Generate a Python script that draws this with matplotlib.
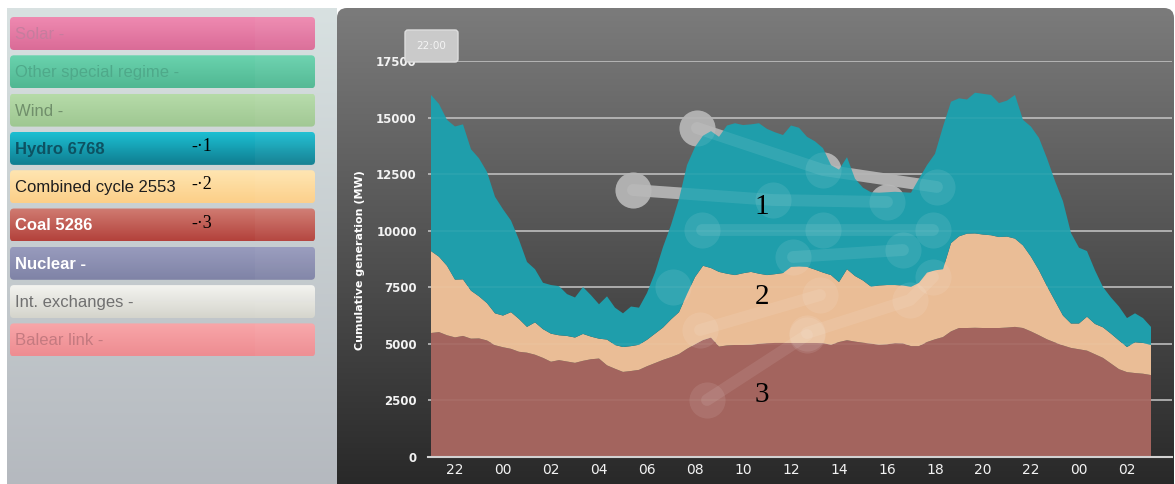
#!/usr/bin/env python3
"""
Cumulative generation dashboard: stacked coal / combined cycle / hydro areas
next to the technology selector panel.
"""

import matplotlib

matplotlib.use("Agg")

import matplotlib.pyplot as plt
import numpy as np
from matplotlib import colors as mcolors
from matplotlib import font_manager
from matplotlib.patches import FancyBboxPatch, Rectangle


OUTPUT_PATH = "out.png"
W, H = 1175, 484

# MW, one sample every 20 minutes from 21:00 to 03:00 two days later
START_HOUR = 21
STEP_HOURS = 1 / 3

coal = [
    5480, 5520, 5380, 5286, 5350, 5230, 5240, 5150, 4940, 4850,
    4780, 4650, 4610, 4520, 4380, 4210, 4280, 4220, 4160, 4250,
    4320, 4350, 4050, 3900, 3760, 3800, 3850, 4010, 4150, 4290,
    4410, 4550, 4780, 4980, 5170, 5280, 4880, 4930, 4950, 4950,
    4960, 5000, 5030, 5040, 5040, 5040, 5040, 5040, 5040, 5030,
    4960, 5080, 5160, 5100, 5050, 5010, 4960, 4980, 5030, 5020,
    4900, 4900, 5080, 5200, 5300, 5550, 5700, 5700, 5710, 5700,
    5700, 5700, 5720, 5750, 5700, 5550, 5380, 5200, 5060, 4930,
    4820, 4760, 4700, 4540, 4380, 4130, 3880, 3750, 3710, 3680,
    3620,
]
combined_cycle = [
    3620, 3330, 3070, 2553, 2500, 2120, 1860, 1650, 1410, 1400,
    1620, 1450, 1140, 1430, 1270, 1240, 1100, 1130, 1120, 1190,
    1000, 880, 1140, 1050, 1100, 1100, 1110, 1170, 1300, 1430,
    1670, 1850, 2420, 2970, 3280, 3070, 3300, 3170, 3090, 3170,
    3220, 3100, 3010, 3040, 3090, 3360, 3380, 3360, 3240, 3120,
    3080, 2650, 3140, 2900, 2750, 2520, 2620, 2620, 2570, 2560,
    2620, 2800, 3070, 3050, 3000, 3900, 4050, 4170, 4170, 4130,
    4100, 4020, 4020, 3900, 3650, 3300, 2870, 2350, 1840, 1320,
    1080, 1140, 1500, 1340, 1350, 1320, 1270, 1110, 1360, 1360,
    1330,
]
hydro = [
    6900, 6750, 6450, 6768, 6850, 6250, 6100, 5800, 5150, 4700,
    4050, 3500, 2870, 2350, 2050, 2150, 2170, 1850, 1770, 2070,
    1830, 1520, 1910, 1650, 1490, 1750, 1640, 2070, 2700, 3560,
    4170, 5000, 5700, 5750, 5750, 6050, 5970, 6550, 6710, 6550,
    6520, 6650, 6460, 6270, 6100, 6250, 6130, 5750, 5670, 5500,
    4860, 4970, 4950, 4300, 4100, 4170, 4100, 4100, 4120, 4120,
    4160, 4600, 4750, 5150, 6300, 6250, 6100, 5930, 6220, 6220,
    6200, 5920, 6010, 6350, 5550, 5750, 5850, 5650, 5300, 5050,
    4000, 3350, 2900, 2370, 1780, 1600, 1500, 1280, 1280, 1100,
    800,
]

TICK_HOURS = list(range(22, 51, 2))
TICK_LABELS = ["22", "00", "02", "04", "06", "08", "10", "12",
               "14", "16", "18", "20", "22", "00", "02"]
Y_TICKS = list(range(0, 17501, 2500))

TOOLTIP_LABEL = "22:00"
TOOLTIP_INDEX = 3  # the 22:00 sample shown in the selector

LEGEND_NAMES = ["Solar", "Other special regime", "Wind", "Hydro", "Combined cycle",
                "Coal", "Nuclear", "Int. exchanges", "Balear link"]
LEGEND_SERIES = {"Hydro": hydro, "Combined cycle": combined_cycle, "Coal": coal}
LEGEND_MARKS = {"Hydro": "-·1", "Combined cycle": "-·2", "Coal": "-·3"}

COLORS = {
    "coal": "#a3645e",
    "combined": "#eabd96",
    "hydro": "#1f9eab",
    "grid": "#c2c2c2",
    "tick": "#f2f2f2",
}

# (top colour, bottom colour, text colour, bold)
BUTTON_STYLES = {
    "Solar": ("#ef8ab1", "#da6b97", "#c67d9e", False),
    "Other special regime": ("#6ad3ae", "#50b792", "#4fa98a", False),
    "Wind": ("#b6dba9", "#9ec791", "#708f6b", False),
    "Hydro": ("#1dbfd2", "#0f7d90", "#0d5262", True),
    "Combined cycle": ("#ffe5b1", "#fccf88", "#1e1e1e", False),
    "Coal": ("#d07c72", "#b3413b", "#ffffff", True),
    "Nuclear": ("#989bbd", "#7f83a6", "#ffffff", True),
    "Int. exchanges": ("#f4f4f0", "#d4d4cc", "#707070", False),
    "Balear link": ("#f8a6a9", "#ee8c91", "#c47a80", False),
}

# decorative node-and-link emblem behind the areas (figure pixels)
EMBLEM_CHAINS = [
    [(697, 128), (823, 170), (937, 187)],
    [(633, 190), (773, 200), (887, 202)],
    [(702, 230), (823, 230), (933, 230)],
    [(673, 287)],
    [(793, 257), (903, 250)],
    [(700, 330), (820, 295)],
    [(807, 333), (910, 300), (933, 277)],
    [(707, 400), (807, 335)],
]

installed = {f.name for f in font_manager.fontManager.ttflist}
NARROW = ["Liberation Sans Narrow", "DejaVu Sans"] if "Liberation Sans Narrow" in installed else ["DejaVu Sans"]
SANS = ["Liberation Sans", "DejaVu Sans"]
SERIF = ["Liberation Serif", "DejaVu Serif"]


def gradient_box(ax, x, y, w, h, top, bottom, radius, zorder=1):
    patch = FancyBboxPatch(
        (x, y), w, h,
        boxstyle=f"round,pad=0,rounding_size={radius}",
        facecolor="none", edgecolor="none", zorder=zorder,
    )
    ax.add_patch(patch)
    t = np.linspace(0, 1, 128)[:, None, None]
    c0 = np.array(mcolors.to_rgb(top))
    c1 = np.array(mcolors.to_rgb(bottom))
    img = c0 + (c1 - c0) * t
    im = ax.imshow(img, extent=(x, x + w, y + h, y), origin="upper",
                   aspect="auto", interpolation="bilinear", zorder=zorder)
    im.set_clip_path(patch)
    return patch


def draw_selector(bg):
    gradient_box(bg, 7, 8, 330, 490, "#d8e1e1", "#b4b8be", 0, zorder=0)
    top, pitch, height = 17, 38.3, 33
    for i, name in enumerate(LEGEND_NAMES):
        y = top + i * pitch
        c_top, c_bot, c_text, bold = BUTTON_STYLES[name]
        button = gradient_box(bg, 10, y, 305, height, c_top, c_bot, 4, zorder=1)
        # slightly lighter right-hand part of each button
        cap = Rectangle((255, y), 60, height, facecolor="white", alpha=0.035,
                        edgecolor="none", zorder=2)
        bg.add_patch(cap)
        cap.set_clip_path(button)
        series = LEGEND_SERIES.get(name)
        value = str(series[TOOLTIP_INDEX]) if series is not None else "-"
        bg.text(15, y + height / 2 + 1, f"{name} {value}", family=SANS, fontsize=12,
                fontweight="bold" if bold else "normal", color=c_text,
                ha="left", va="center", zorder=3)
        if name in LEGEND_MARKS:
            bg.text(191, y + height / 2 - 2, LEGEND_MARKS[name], family=SERIF,
                    fontsize=13, color="black", ha="left", va="center", zorder=3)


def main():
    fig = plt.figure(figsize=(W / 100, H / 100), dpi=100, facecolor="white")

    bg = fig.add_axes([0, 0, 1, 1])
    bg.axis("off")
    draw_selector(bg)
    gradient_box(bg, 337, 8, 837, 500, "#7b7b7b", "#252525", 10, zorder=1)
    bg.text(360, 260, "Cumulative generation (MW)", rotation=90, family=["DejaVu Sans"],
            fontsize=8, fontweight="bold", color="white", ha="center", va="center", zorder=3)
    bg.set_xlim(0, W)
    bg.set_ylim(H, 0)

    ax = fig.add_axes([428 / W, 27 / H, 744 / W, 396 / H])
    ax.patch.set_alpha(0)
    hours = START_HOUR + STEP_HOURS * np.arange(len(coal))

    for yv in Y_TICKS[1:]:
        ax.axhline(yv, color=COLORS["grid"], lw=1.1, zorder=0.5)

    # emblem: solid grey underneath, faint light wash on top of the areas
    for chain in EMBLEM_CHAINS:
        xs = [p[0] for p in chain]
        ys = [p[1] for p in chain]
        ax.plot(xs, ys, color="#a9a9a9", lw=8.5, marker="o", ms=26, mew=0,
                solid_capstyle="round", transform=bg.transData, zorder=1)
        ax.plot(xs, ys, color="white", alpha=0.09, lw=8.5, marker="o", ms=26, mew=0,
                solid_capstyle="round", transform=bg.transData, zorder=3)

    ax.stackplot(hours, coal, combined_cycle, hydro,
                 colors=[COLORS["coal"], COLORS["combined"], COLORS["hydro"]],
                 edgecolor="none", lw=0, zorder=2)

    for yv in Y_TICKS[1:]:
        ax.axhline(yv, color="white", alpha=0.06, lw=1.1, zorder=2.5)

    ax.set_xlim(20.875, 51.875)
    ax.set_ylim(0, 17500)
    ax.set_xticks(TICK_HOURS)
    ax.set_xticklabels(TICK_LABELS, family=NARROW, fontsize=10, color=COLORS["tick"])
    ax.set_yticks(Y_TICKS)
    ax.set_yticklabels([str(v) for v in Y_TICKS], family=["DejaVu Sans"], fontsize=8.5,
                       fontweight="bold", color=COLORS["tick"])
    ax.tick_params(axis="x", direction="in", length=4, width=1, color="#cfcfcf", pad=4)
    ax.tick_params(axis="y", length=0, pad=8)
    for side in ("left", "right", "top"):
        ax.spines[side].set_visible(False)
    ax.spines["bottom"].set_color("#d2d2d2")
    ax.spines["bottom"].set_linewidth(1.5)

    ov = fig.add_axes([0, 0, 1, 1])
    ov.axis("off")
    ov.patch.set_alpha(0)
    ov.add_patch(FancyBboxPatch((405, 30), 53, 32, boxstyle="round,pad=0,rounding_size=3",
                                facecolor="#cacaca", edgecolor="#dedede", lw=1))
    ov.text(431.5, 46, TOOLTIP_LABEL, family=["DejaVu Sans"], fontsize=7.5,
            color="#f4f4f4", ha="center", va="center")
    for label, (x, y) in zip(["1", "2", "3"], [(762, 207), (762, 297), (762, 395)]):
        ov.text(x, y, label, family=SERIF, fontsize=21, color="black", ha="center", va="center")
    ov.set_xlim(0, W)
    ov.set_ylim(H, 0)

    fig.savefig(OUTPUT_PATH, dpi=100)
    plt.close(fig)


if __name__ == "__main__":
    main()
